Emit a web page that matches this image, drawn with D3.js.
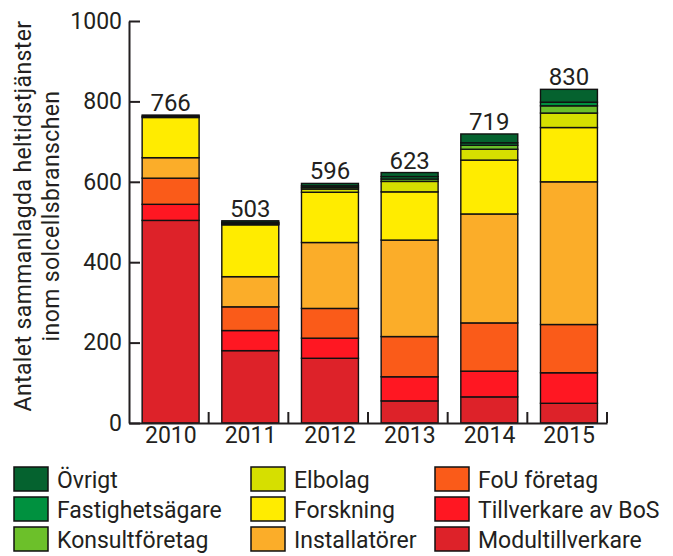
<!DOCTYPE html>
<html>
<head>
<meta charset="utf-8">
<script src="https://cdn.jsdelivr.net/npm/d3@7"></script>
<style>
  body { margin: 0; background: #fff; }
  text { font-family: Roboto, "Noto Sans", sans-serif; fill: #231f20; }
</style>
</head>
<body>
<script>
// data, bottom segment first
var years = ["2010", "2011", "2012", "2013", "2014", "2015"];
var modul     = [504, 180, 161,  55,  65,  49];
var bos       = [ 40,  50,  50,  60,  64,  76];
var fou       = [ 65,  59,  74, 100, 120, 120];
var install   = [ 51,  75, 164, 240, 271, 355];
var forskning = [100, 129, 125, 120, 134, 135];
var elbolag   = [  0,   2,   8,  26,  27,  36];
var konsult   = [  3,   2,   4,   6,  10,  18];
var fastighet = [  0,   2,   4,   6,   6,   9];
var ovrigt    = [  3,   4,   6,  10,  22,  32];
var yTicks = [0, 200, 400, 600, 800, 1000];

var series = [
  {key: "Modultillverkare",   vals: modul,     color: "#dd2229"},
  {key: "Tillverkare av BoS", vals: bos,       color: "#ff1722"},
  {key: "FoU företag",        vals: fou,       color: "#fa5b19"},
  {key: "Installatörer",      vals: install,   color: "#fbad29"},
  {key: "Forskning",          vals: forskning, color: "#ffec00"},
  {key: "Elbolag",            vals: elbolag,   color: "#d6df00"},
  {key: "Konsultföretag",     vals: konsult,   color: "#6cc02a"},
  {key: "Fastighetsägare",    vals: fastighet, color: "#00913f"},
  {key: "Övrigt",             vals: ovrigt,    color: "#05622f"}
];

// legend order (column by column, top to bottom)
var legendOrder = ["Övrigt", "Fastighetsägare", "Konsultföretag",
                   "Elbolag", "Forskning", "Installatörer",
                   "FoU företag", "Tillverkare av BoS", "Modultillverkare"];

// build table for d3.stack
var table = years.map(function(y, i) {
  var row = {year: y};
  series.forEach(function(s) { row[s.key] = s.vals[i]; });
  return row;
});
var colorOf = {};
series.forEach(function(s) { colorOf[s.key] = s.color; });

var width = 673, height = 556;
var svg = d3.select("body").append("svg")
  .attr("width", width)
  .attr("height", height);

var x = d3.scaleBand().domain(years).range([129, 607]).padding(0);
var y = d3.scaleLinear().domain([0, 1000]).range([423, 21]);
var bw = x.bandwidth();

var stacked = d3.stack().keys(series.map(function(s) { return s.key; }))(table);

// bars
var layers = svg.append("g").selectAll("g")
  .data(stacked)
  .enter().append("g")
  .attr("fill", function(d) { return colorOf[d.key]; });

layers.selectAll("rect")
  .data(function(d) { return d; })
  .enter().append("rect")
  .attr("x", function(d) { return x(d.data.year) + bw * 0.165; })
  .attr("width", bw * 0.715)
  .attr("y", function(d) { return y(d[1]); })
  .attr("height", function(d) { return y(d[0]) - y(d[1]); })
  .attr("stroke", "#111")
  .attr("stroke-width", 1.4);

// totals above bars
svg.append("g").selectAll("text")
  .data(table)
  .enter().append("text")
  .attr("x", function(d) { return x(d.year) + bw * 0.165 + bw * 0.715 / 2; })
  .attr("y", function(d) { return y(d3.sum(series, function(s) { return d[s.key]; })) - 4; })
  .attr("text-anchor", "middle")
  .attr("font-size", "24px")
  .text(function(d) { return d3.sum(series, function(s) { return d[s.key]; }); });

// y axis, ticks pointing inward
var yAxis = svg.append("g")
  .attr("transform", "translate(129,0)")
  .call(d3.axisLeft(y).tickValues(yTicks).tickFormat(d3.format("d"))
    .tickSizeInner(-11).tickSizeOuter(0).tickPadding(7));
yAxis.select(".domain").attr("stroke", "#231f20").attr("stroke-width", 2);
yAxis.selectAll(".tick line").attr("stroke", "#231f20").attr("stroke-width", 2);
yAxis.selectAll(".tick text").attr("font-size", "23px").attr("font-family", "Roboto, sans-serif").attr("fill", "#231f20");

// x axis: baseline, small ticks between bands, labels under bars
var xAxis = svg.append("g")
  .attr("transform", "translate(0,423)")
  .call(d3.axisBottom(x).tickSize(0).tickPadding(4));
xAxis.select(".domain").attr("stroke", "#231f20").attr("stroke-width", 2);
xAxis.selectAll(".tick text").attr("font-size", "23px").attr("font-family", "Roboto, sans-serif").attr("fill", "#231f20")
  .attr("dx", 2);
svg.append("g").selectAll("line")
  .data(years)
  .enter().append("line")
  .attr("x1", function(d) { return x(d) + bw; })
  .attr("x2", function(d) { return x(d) + bw; })
  .attr("y1", 423)
  .attr("y2", 412)
  .attr("stroke", "#231f20")
  .attr("stroke-width", 2);

// y axis title
var title = svg.append("text")
  .attr("transform", "translate(0,216) rotate(-90)")
  .attr("text-anchor", "middle")
  .attr("font-size", "23px")
  .attr("letter-spacing", "0.4px");
title.append("tspan").attr("x", 0).attr("y", 31).text("Antalet sammanlagda heltidstjänster");
title.append("tspan").attr("x", 0).attr("y", 59).text("inom solcellsbranschen");

// legend
var colX = [14, 251, 435];
var legend = svg.append("g").selectAll("g")
  .data(legendOrder)
  .enter().append("g")
  .attr("transform", function(d, i) {
    return "translate(" + colX[Math.floor(i / 3)] + "," + (467 + (i % 3) * 30) + ")";
  });
legend.append("rect")
  .attr("width", 34)
  .attr("height", 24)
  .attr("fill", function(d) { return colorOf[d]; })
  .attr("stroke", "#111")
  .attr("stroke-width", 1.5);
legend.append("text")
  .attr("x", 43)
  .attr("y", 21)
  .attr("font-size", "23px")
  .text(function(d) { return d; });
</script>
</body>
</html>
